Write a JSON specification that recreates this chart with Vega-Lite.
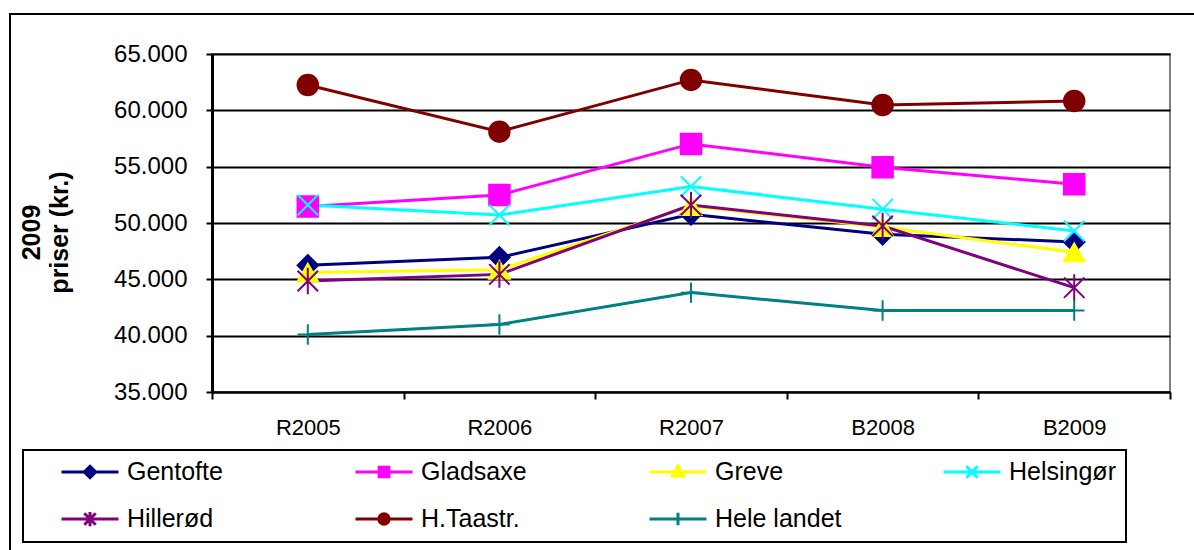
{
  "$schema": "https://vega.github.io/schema/vega-lite/v6.json",
  "autosize": {"type": "none"},
  "padding": {"left": 212, "top": 54, "right": 24, "bottom": 158},
  "width": 958,
  "height": 338,
  "background": "white",
  "config": {
    "font": "Liberation Sans",
    "view": {"stroke": "#808080", "strokeWidth": 2}
  },
  "data": {
    "values": [
      {"year": "R2005", "series": "Gentofte", "value": 46240},
      {"year": "R2006", "series": "Gentofte", "value": 46950},
      {"year": "R2007", "series": "Gentofte", "value": 50770},
      {"year": "B2008", "series": "Gentofte", "value": 49000},
      {"year": "B2009", "series": "Gentofte", "value": 48320},
      {"year": "R2005", "series": "Gladsaxe", "value": 51470},
      {"year": "R2006", "series": "Gladsaxe", "value": 52480},
      {"year": "R2007", "series": "Gladsaxe", "value": 57020},
      {"year": "B2008", "series": "Gladsaxe", "value": 54950},
      {"year": "B2009", "series": "Gladsaxe", "value": 53440},
      {"year": "R2005", "series": "Greve", "value": 45600},
      {"year": "R2006", "series": "Greve", "value": 45850},
      {"year": "R2007", "series": "Greve", "value": 51500},
      {"year": "B2008", "series": "Greve", "value": 49640},
      {"year": "B2009", "series": "Greve", "value": 47400},
      {"year": "R2005", "series": "Helsingør", "value": 51600},
      {"year": "R2006", "series": "Helsingør", "value": 50710},
      {"year": "R2007", "series": "Helsingør", "value": 53240},
      {"year": "B2008", "series": "Helsingør", "value": 51230},
      {"year": "B2009", "series": "Helsingør", "value": 49290},
      {"year": "R2005", "series": "Hillerød", "value": 44850},
      {"year": "R2006", "series": "Hillerød", "value": 45440},
      {"year": "R2007", "series": "Hillerød", "value": 51600},
      {"year": "B2008", "series": "Hillerød", "value": 49730},
      {"year": "B2009", "series": "Hillerød", "value": 44260},
      {"year": "R2005", "series": "H.Taastr.", "value": 62250},
      {"year": "R2006", "series": "H.Taastr.", "value": 58110},
      {"year": "R2007", "series": "H.Taastr.", "value": 62700},
      {"year": "B2008", "series": "H.Taastr.", "value": 60480},
      {"year": "B2009", "series": "H.Taastr.", "value": 60830},
      {"year": "R2005", "series": "Hele landet", "value": 40110},
      {"year": "R2006", "series": "Hele landet", "value": 40990},
      {"year": "R2007", "series": "Hele landet", "value": 43820},
      {"year": "B2008", "series": "Hele landet", "value": 42240},
      {"year": "B2009", "series": "Hele landet", "value": 42240}
    ]
  },
  "encoding": {
    "x": {
      "field": "year", "type": "nominal", "sort": null,
      "scale": {"paddingInner": 0, "paddingOuter": 0},
      "axis": {
        "title": null, "labelAngle": 0, "tickBand": "extent",
        "labelFont": "Liberation Sans", "labelFontSize": 22, "labelColor": "black",
        "labelPadding": 18, "tickSize": 7, "tickColor": "black", "tickWidth": 2,
        "domainColor": "black", "domainWidth": 2, "grid": false
      }
    },
    "y": {
      "field": "value", "type": "quantitative",
      "scale": {"domain": [35000, 65000], "nice": false, "zero": false},
      "axis": {
        "values": [35000, 40000, 45000, 50000, 55000, 60000, 65000],
        "labelExpr": "replace(format(datum.value, ','), ',', '.')",
        "labelFont": "Liberation Sans", "labelFontSize": 24, "labelColor": "black",
        "labelPadding": 19, "tickSize": 6, "tickColor": "black", "tickWidth": 2,
        "domainColor": "black", "domainWidth": 3,
        "grid": true, "gridWidth": 2, "gridColor": "black",
        "title": ["2009", "priser (kr.)"],
        "titleFont": "Liberation Sans", "titleFontSize": 25, "titleFontWeight": "bold",
        "titleColor": "black", "titleAngle": 270, "titleBaseline": "alphabetic",
        "titleAlign": "center", "titleLineHeight": 28, "titleX": -173, "titleY": 178
      }
    }
  },
  "layer": [
    {
      "mark": {"type": "line", "strokeWidth": 3},
      "encoding": {
        "color": {
          "field": "series", "type": "nominal",
          "scale": {
            "domain": ["Gentofte", "Gladsaxe", "Greve", "Helsingør", "Hillerød", "H.Taastr.", "Hele landet"],
            "range": ["#000080", "#FF00FF", "#FFFF00", "#00FFFF", "#800080", "#800000", "#008080"]
          },
          "legend": {
            "title": null, "orient": "none", "legendX": -202, "legendY": -40,
            "direction": "horizontal", "columns": 7, "columnPadding": 10,
            "clipHeight": 20, "symbolSize": 10000, "symbolOpacity": 0, "labelOpacity": 0,
            "labelFontSize": 1, "labelOffset": 0,
            "padding": 285, "strokeColor": "black",
            "encode": {"legend": {"update": {"strokeWidth": {"value": 2}, "fill": {"value": "transparent"}}}}
          }
        }
      }
    },
    {
      "mark": {"type": "point", "filled": true, "opacity": 1, "strokeWidth": 2, "size": 420},
      "encoding": {
        "fill": {
          "field": "series", "type": "nominal",
          "scale": {
            "domain": ["Gentofte", "Gladsaxe", "Greve", "Helsingør", "Hillerød", "H.Taastr.", "Hele landet"],
            "range": ["#000080", "#FF00FF", "#FFFF00", "#00FFFF", "#800080", "#800000", "#008080"]
          },
          "legend": null
        },
        "stroke": {
          "field": "series", "type": "nominal",
          "scale": {
            "domain": ["Gentofte", "Gladsaxe", "Greve", "Helsingør", "Hillerød", "H.Taastr.", "Hele landet"],
            "range": ["#000080", "#FF00FF", "#FFFF00", "#00FFFF", "#800080", "#800000", "#008080"]
          },
          "legend": null
        },
        "shape": {
          "field": "series", "type": "nominal",
          "scale": {
            "domain": ["Gentofte", "Gladsaxe", "Greve", "Helsingør", "Hillerød", "H.Taastr.", "Hele landet"],
            "range": ["diamond", "square", "triangle-up", "M-1,-1L1,1M-1,1L1,-1", "M-1,-1L1,1M-1,1L1,-1M0,-1.3L0,1.3", "circle", "M-1,0L1,0M0,-1L0,1"]
          },
          "legend": null
        }
      }
    },
    {
      "mark": {"type": "point", "filled": true, "opacity": 0, "strokeWidth": 3},
      "encoding": {
        "fill": {
          "field": "series", "type": "nominal",
          "scale": {
            "domain": ["Gentofte", "Gladsaxe", "Greve", "Helsingør", "Hillerød", "H.Taastr.", "Hele landet"],
            "range": ["#000080", "#FF00FF", "#FFFF00", "#00FFFF", "#800080", "#800000", "#008080"]
          },
          "legend": {
            "title": "\u00a0", "titleOrient": "left", "titleFontSize": 10, "titlePadding": 27,
            "orient": "none", "legendX": -189, "legendY": 396,
            "direction": "horizontal", "columns": 4, "gridAlign": "all",
            "columnPadding": 100, "rowPadding": 22, "clipHeight": 24,
            "symbolSize": 3249, "symbolOpacity": 1, "symbolStrokeWidth": 3,
            "labelFont": "Liberation Sans", "labelFontSize": 25, "labelColor": "black",
            "labelOffset": 7, "labelLimit": 400,
            "strokeColor": "black", "fillColor": "white", "padding": 10,
            "encode": {"legend": {"update": {"strokeWidth": {"value": 2}}}}
          }
        },
        "stroke": {
          "field": "series", "type": "nominal",
          "scale": {
            "domain": ["Gentofte", "Gladsaxe", "Greve", "Helsingør", "Hillerød", "H.Taastr.", "Hele landet"],
            "range": ["#000080", "#FF00FF", "#FFFF00", "#00FFFF", "#800080", "#800000", "#008080"]
          },
          "legend": {
            "title": "\u00a0", "titleOrient": "left", "titleFontSize": 10, "titlePadding": 27,
            "orient": "none", "legendX": -189, "legendY": 396,
            "direction": "horizontal", "columns": 4, "gridAlign": "all",
            "columnPadding": 100, "rowPadding": 22, "clipHeight": 24,
            "symbolSize": 3249, "symbolOpacity": 1, "symbolStrokeWidth": 3,
            "labelFont": "Liberation Sans", "labelFontSize": 25, "labelColor": "black",
            "labelOffset": 7, "labelLimit": 400,
            "strokeColor": "black", "fillColor": "white", "padding": 10,
            "encode": {"legend": {"update": {"strokeWidth": {"value": 2}}}}
          }
        },
        "shape": {
          "field": "series", "type": "nominal",
          "scale": {
            "domain": ["Gentofte", "Gladsaxe", "Greve", "Helsingør", "Hillerød", "H.Taastr.", "Hele landet"],
            "range": [
              "M-1,0L1,0M0,-0.2L0.2,0L0,0.2L-0.2,0Z",
              "M-1,0L1,0M-0.17,-0.17L0.17,-0.17L0.17,0.17L-0.17,0.17Z",
              "M-1,0L1,0M0,-0.22L0.2,0.14L-0.2,0.14Z",
              "M-1,0L1,0M-0.2,-0.2L0.2,0.2M-0.2,0.2L0.2,-0.2",
              "M-1,0L1,0M-0.2,-0.2L0.2,0.2M-0.2,0.2L0.2,-0.2M0,-0.25L0,0.25",
              "M-1,0L1,0M-0.18,0A0.18,0.18,0,1,0,0.18,0A0.18,0.18,0,1,0,-0.18,0Z",
              "M-1,0L1,0M0,-0.22L0,0.22"
            ]
          },
          "legend": {
            "title": "\u00a0", "titleOrient": "left", "titleFontSize": 10, "titlePadding": 27,
            "orient": "none", "legendX": -189, "legendY": 396,
            "direction": "horizontal", "columns": 4, "gridAlign": "all",
            "columnPadding": 100, "rowPadding": 22, "clipHeight": 24,
            "symbolSize": 3249, "symbolOpacity": 1, "symbolStrokeWidth": 3,
            "labelFont": "Liberation Sans", "labelFontSize": 25, "labelColor": "black",
            "labelOffset": 7, "labelLimit": 400,
            "strokeColor": "black", "fillColor": "white", "padding": 10,
            "encode": {"legend": {"update": {"strokeWidth": {"value": 2}}}}
          }
        }
      }
    }
  ],
  "resolve": {"scale": {"shape": "independent", "fill": "independent", "stroke": "independent", "color": "independent"}}
}
